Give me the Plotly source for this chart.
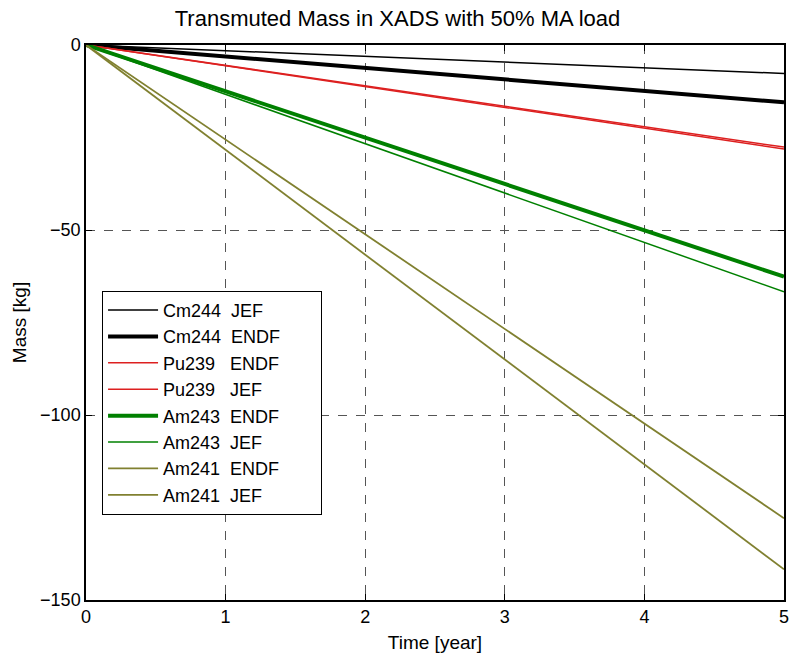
import plotly.graph_objects as go

time_years = [0, 5]
names = ["Cm244\u00a0\u00a0JEF", "Cm244\u00a0\u00a0ENDF", "Pu239\u00a0\u00a0\u00a0ENDF", "Pu239\u00a0\u00a0\u00a0JEF",
         "Am243\u00a0\u00a0ENDF", "Am243\u00a0\u00a0JEF", "Am241\u00a0\u00a0ENDF", "Am241\u00a0\u00a0JEF"]
cm244_jef = [0, -7.7]
cm244_endf = [0, -15.5]
pu239_endf = [0, -27.6]
pu239_jef = [0, -28.1]
am243_endf = [0, -62.6]
am243_jef = [0, -66.7]
am241_endf = [0, -127.9]
am241_jef = [0, -141.7]
series = [cm244_jef, cm244_endf, pu239_endf, pu239_jef, am243_endf, am243_jef, am241_endf, am241_jef]
colors = ["#000000", "#000000", "#dd2020", "#dd2020", "#008000", "#008000", "#808030", "#808030"]
widths = [1.5, 4, 1.5, 1.5, 4, 1.5, 1.8, 1.8]

FONT = "Liberation Sans, Arial"
PAD = "\u00a0" * 7  # trailing blank room inside the legend box

fig = go.Figure()
for i, (n, s, c, w) in enumerate(zip(names, series, colors, widths)):
    fig.add_trace(go.Scatter(x=time_years, y=s, mode="lines", name=n + PAD, legendgroup=f"g{i}",
                             line=dict(color=c, width=w)))

axis_common = dict(showline=True, linecolor="black", linewidth=1.5, mirror="allticks",
                   ticks="inside", ticklen=6, tickcolor="black", zeroline=False,
                   showgrid=True, gridcolor="#555555", griddash="dash", gridwidth=1,
                   tickfont=dict(family=FONT, size=18, color="black"))

fig.update_layout(
    width=795, height=657,
    margin=dict(l=86, r=6, t=45, b=57),
    paper_bgcolor="white", plot_bgcolor="white",
    title=dict(text="Transmuted Mass in XADS with 50% MA load", x=0.5, xanchor="center",
               y=1 - 18 / 657, yanchor="middle",
               font=dict(family=FONT, size=22, color="black")),
    xaxis=dict(range=[0, 5], dtick=1, title=dict(text="Time [year]", standoff=9,
               font=dict(family=FONT, size=19, color="black")), **axis_common),
    yaxis=dict(range=[-150, 0], dtick=50, title=dict(text="Mass [kg]", standoff=8,
               font=dict(family=FONT, size=19, color="black")), **axis_common),
    legend=dict(x=0.023, y=0.557, xanchor="left", yanchor="top", bgcolor="white",
                bordercolor="black", borderwidth=1, tracegroupgap=0, itemwidth=50,
                font=dict(family=FONT, size=18, color="black")),
    showlegend=True,
)

fig.write_html("out.html")
